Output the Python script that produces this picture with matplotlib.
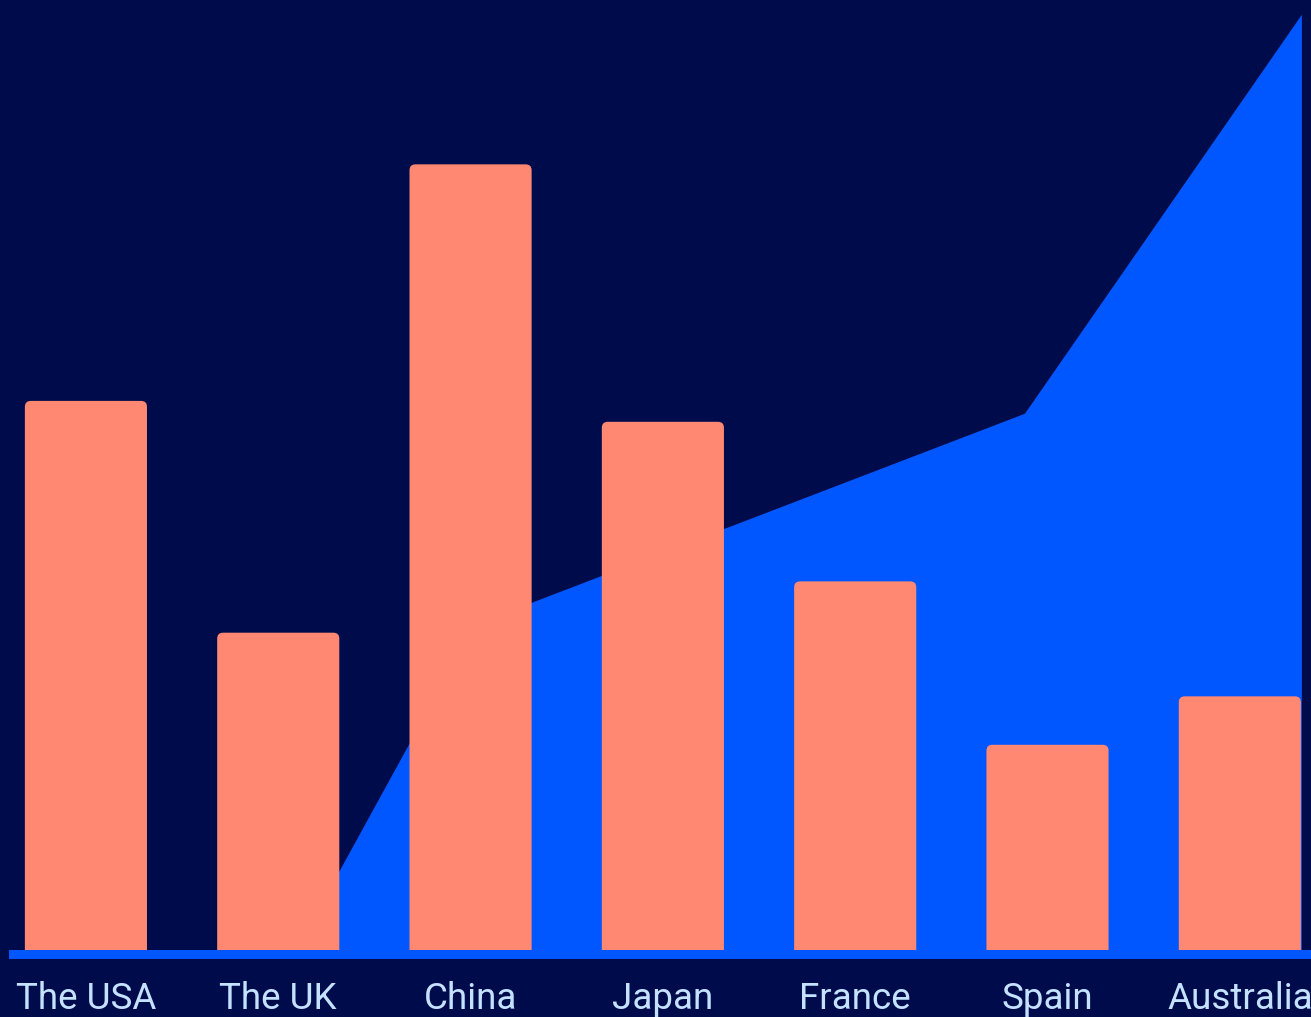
import numpy as np
import matplotlib
matplotlib.use('Agg')
import matplotlib.pyplot as plt
from matplotlib.patches import FancyBboxPatch

matplotlib.rcParams['font.family'] = ['Roboto', 'DejaVu Sans']

BG = '#000b4b'
AREA_COLOR = '#0057ff'
BAR_COLOR = '#ff8872'
LABEL_COLOR = '#c4e2ff'

countries = ['The USA', 'The UK', 'China', 'Japan', 'France', 'Spain', 'Australia']
bar_values = [57.8, 33.4, 82.7, 55.6, 38.8, 21.6, 26.7]

# background area series (x in category units)
area_x = [-0.40, 1.09, 2.02, 4.88, 6.32]
area_values = [0, 0, 34.3, 56.5, 98.5]

fig = plt.figure(figsize=(13.11, 10.17), dpi=100, facecolor=BG)
ax = fig.add_axes([9 / 1311, 58 / 1017, 1302 / 1311, 959 / 1017])
ax.set_facecolor(BG)

ax.fill_between(area_x, area_values, 0, color=AREA_COLOR, linewidth=0, zorder=1)

x = np.arange(len(countries))
bars = ax.bar(x, bar_values, width=0.635, color=BAR_COLOR, zorder=2)

# swap plain bars for ones with rounded tops (bottom corners go under the baseline)
for b in bars:
    rounded = FancyBboxPatch((b.get_x(), b.get_y() - 0.9), b.get_width(), b.get_height() + 0.9,
                             boxstyle='round,pad=0,rounding_size=0.031',
                             mutation_aspect=20, facecolor=BAR_COLOR, edgecolor='none', zorder=2)
    ax.add_patch(rounded)
    b.remove()

# baseline band
ax.axhspan(-0.95, 0, color=AREA_COLOR, linewidth=0, zorder=3)

ax.set_xlim(-0.40, 6.37)
ax.set_ylim(-0.95, 100)
ax.set_yticks([])
ax.set_xticks(x)
ax.set_xticklabels(countries, fontsize=26.5, color=LABEL_COLOR)
ax.tick_params(axis='x', length=0, pad=16)
for s in ax.spines.values():
    s.set_visible(False)

fig.savefig('out.png', dpi=100, facecolor=BG)
